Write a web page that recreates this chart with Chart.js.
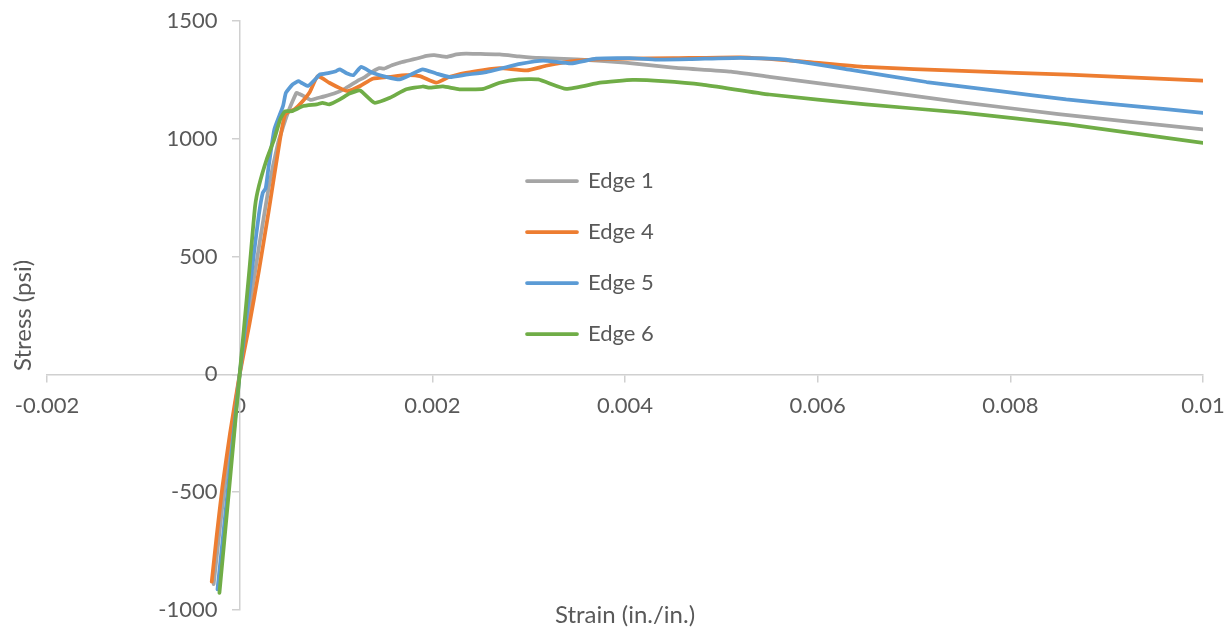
<!DOCTYPE html>
<html>
<head>
<meta charset="utf-8">
<script src="https://cdn.jsdelivr.net/npm/chart.js@4.4.0/dist/chart.umd.min.js"></script>
<style>
  html, body { margin: 0; padding: 0; background: #fff; }
  #wrap { width: 1232px; height: 632px; }
</style>
</head>
<body>
<div id="wrap"><canvas id="stressChart" width="1232" height="632"></canvas></div>
<script>
// values: strain (in./in.) and stress (psi)
const edge1Strain = [-0.00027, -0.00018, -0.00009, 0, 0.0001, 0.0002, 0.0003, 0.0004, 0.00045, 0.0005, 0.00055, 0.00059, 0.00062, 0.00067, 0.00074, 0.0008, 0.00088, 0.001, 0.00108, 0.00114, 0.00122, 0.0013, 0.00138, 0.00145, 0.0015, 0.00158, 0.00166, 0.00173, 0.0018, 0.00188, 0.00194, 0.00202, 0.00215, 0.00225, 0.00235, 0.0025, 0.0027, 0.0029, 0.0031, 0.0035, 0.004, 0.0045, 0.0051, 0.0055, 0.0065, 0.0075, 0.0085, 0.01];
const edge1Stress = [-890, -560, -260, 0, 280, 540, 790, 985, 1050, 1110, 1160, 1195, 1190, 1180, 1165, 1172, 1180, 1195, 1210, 1225, 1245, 1262, 1285, 1300, 1298, 1312, 1323, 1330, 1337, 1345, 1352, 1355, 1348, 1358, 1362, 1360, 1358, 1350, 1343, 1337, 1323, 1302, 1285, 1263, 1210, 1155, 1105, 1040];

const edge4Strain = [-0.00029, -0.00024, -0.00018, -0.0001, 0, 0.0001, 0.0002, 0.0003, 0.00042, 0.00047, 0.00052, 0.00057, 0.00064, 0.00073, 0.00081, 0.00093, 0.00104, 0.00112, 0.00125, 0.00138, 0.00156, 0.00173, 0.00187, 0.00204, 0.00218, 0.00235, 0.00253, 0.0027, 0.00298, 0.00318, 0.00346, 0.004, 0.0045, 0.0052, 0.0058, 0.0065, 0.0075, 0.0086, 0.01];
const edge4Stress = [-880, -690, -480, -250, 0, 210, 440, 690, 1000, 1100, 1117, 1125, 1153, 1200, 1266, 1238, 1215, 1202, 1224, 1255, 1263, 1270, 1266, 1238, 1263, 1280, 1292, 1300, 1290, 1310, 1330, 1340, 1342, 1346, 1330, 1305, 1288, 1272, 1247];

const edge5Strain = [-0.00023, -0.00012, 0, 0.0001, 0.00015, 0.0002, 0.00024, 0.00027, 0.0003, 0.00036, 0.00045, 0.00048, 0.00055, 0.00061, 0.00064, 0.00071, 0.0008, 0.00083, 0.00093, 0.001, 0.00104, 0.00111, 0.00118, 0.00126, 0.00138, 0.00152, 0.00166, 0.00178, 0.0019, 0.00204, 0.00218, 0.00235, 0.00256, 0.00273, 0.00291, 0.00315, 0.00344, 0.0037, 0.00405, 0.00433, 0.00467, 0.0052, 0.00564, 0.00633, 0.00713, 0.00789, 0.00858, 0.00928, 0.01];
const edge5Stress = [-912, -480, 0, 345, 520, 680, 771, 790, 880, 1040, 1139, 1195, 1231, 1245, 1238, 1224, 1259, 1273, 1280, 1287, 1295, 1278, 1270, 1305, 1280, 1263, 1252, 1273, 1295, 1277, 1262, 1272, 1283, 1300, 1318, 1332, 1320, 1340, 1342, 1336, 1338, 1344, 1337, 1294, 1241, 1202, 1167, 1139, 1110];

const edge6Strain = [-0.00021, -0.00011, 0, 0.0001, 0.00016, 0.0002, 0.00028, 0.00036, 0.00042, 0.00047, 0.00054, 0.00066, 0.0008, 0.00086, 0.00093, 0.00104, 0.00114, 0.00125, 0.0014, 0.00156, 0.00173, 0.0019, 0.00197, 0.00211, 0.00228, 0.00253, 0.0027, 0.0029, 0.0031, 0.00339, 0.00374, 0.00408, 0.00439, 0.0048, 0.0055, 0.0065, 0.0075, 0.0086, 0.01];
const edge6Stress = [-927, -490, 0, 440, 714, 800, 912, 1000, 1082, 1117, 1117, 1139, 1146, 1153, 1146, 1167, 1192, 1205, 1153, 1174, 1210, 1222, 1217, 1222, 1210, 1212, 1238, 1252, 1252, 1212, 1238, 1250, 1245, 1230, 1188, 1146, 1111, 1061, 983];

const seriesNames = ['Edge 1', 'Edge 4', 'Edge 5', 'Edge 6'];
const seriesColors = ['#A5A5A5', '#ED7D31', '#5B9BD5', '#70AD47'];
const xTitle = 'Strain (in./in.)';
const yTitle = 'Stress (psi)';

const textColor = '#595959';
const axisColor = '#d0d0d0';
const fontFamily = 'Lato, "Open Sans", sans-serif';

function toPoints(xs, ys) {
    return xs.map((x, i) => ({ x: x, y: ys[i] }));
}

const seriesData = [
    toPoints(edge1Strain, edge1Stress),
    toPoints(edge4Strain, edge4Stress),
    toPoints(edge5Strain, edge5Stress),
    toPoints(edge6Strain, edge6Stress)
];

// later series are drawn on top, so feed them in reverse and flip the legend back
const datasets = seriesNames.map((name, i) => ({
    label: name,
    data: seriesData[i],
    borderColor: seriesColors[i],
    backgroundColor: seriesColors[i],
    borderWidth: 3.75,
    borderCapStyle: 'round',
    borderJoinStyle: 'round',
    pointRadius: 0,
    showLine: true,
    tension: 0.15
})).reverse();

// axis titles sit outside the crossing axes
const axisTitles = {
    id: 'axisTitles',
    afterDraw(chart) {
        const { ctx, chartArea } = chart;
        ctx.save();
        ctx.fillStyle = textColor;
        ctx.font = '24px ' + fontFamily;
        ctx.textAlign = 'center';
        ctx.textBaseline = 'middle';
        ctx.fillText(xTitle, (chartArea.left + chartArea.right) / 2, 615);
        ctx.translate(23, (chartArea.top + chartArea.bottom) / 2);
        ctx.rotate(-Math.PI / 2);
        ctx.fillText(yTitle, 0, 0);
        ctx.restore();
    }
};

// move the legend into the middle of the plot
const legendSpot = {
    id: 'legendSpot',
    afterLayout(chart) {
        const lg = chart.legend;
        const pad = lg.options.labels.padding;
        const w = lg.width, h = lg.height;
        lg.left = 527 - pad;
        lg.top = 170 - pad;
        lg.right = lg.left + w;
        lg.bottom = lg.top + h;
    }
};

const gridOpts = {
    display: true,
    drawOnChartArea: false,
    drawTicks: true,
    tickLength: 7,
    color: axisColor,
    lineWidth: 1.5
};

const ctx = document.getElementById('stressChart').getContext('2d');
const chart = new Chart(ctx, {
    type: 'scatter',
    data: { datasets: datasets },
    options: {
        responsive: false,
        animation: false,
        layout: {
            autoPadding: false,
            padding: { left: 47, right: 29, top: 21, bottom: 22 }
        },
        scales: {
            x: {
                type: 'linear',
                position: { y: 0 },
                min: -0.002,
                max: 0.01,
                ticks: {
                    stepSize: 0.002,
                    color: textColor,
                    padding: 0,
                    maxRotation: 0,
                    // tall line box drops the labels below the axis without side padding
                    font: { family: fontFamily, size: 22, lineHeight: 2.2 },
                    callback: (v) => String(+Number(v).toFixed(4))
                },
                grid: gridOpts,
                border: { display: true, color: axisColor, width: 1.5 }
            },
            y: {
                type: 'linear',
                position: { x: 0 },
                min: -1000,
                max: 1500,
                ticks: { stepSize: 500, display: false },
                grid: gridOpts,
                border: { display: true, color: axisColor, width: 1.5 }
            },
            // label column for the stress axis, set a little left of the axis line
            yLabels: {
                type: 'linear',
                axis: 'y',
                position: { x: -0.00023 },
                min: -1000,
                max: 1500,
                ticks: {
                    stepSize: 500,
                    color: textColor,
                    padding: 0,
                    font: { family: fontFamily, size: 22 },
                    callback: (v) => String(v)
                },
                grid: { display: false },
                border: { display: false }
            }
        },
        plugins: {
            legend: {
                position: 'chartArea',
                align: 'start',
                reverse: true,
                labels: {
                    color: textColor,
                    boxWidth: 50,
                    boxHeight: 0,
                    padding: 29,
                    font: { family: fontFamily, size: 22 }
                }
            },
            tooltip: { enabled: false }
        }
    },
    plugins: [axisTitles, legendSpot]
});
</script>
</body>
</html>
